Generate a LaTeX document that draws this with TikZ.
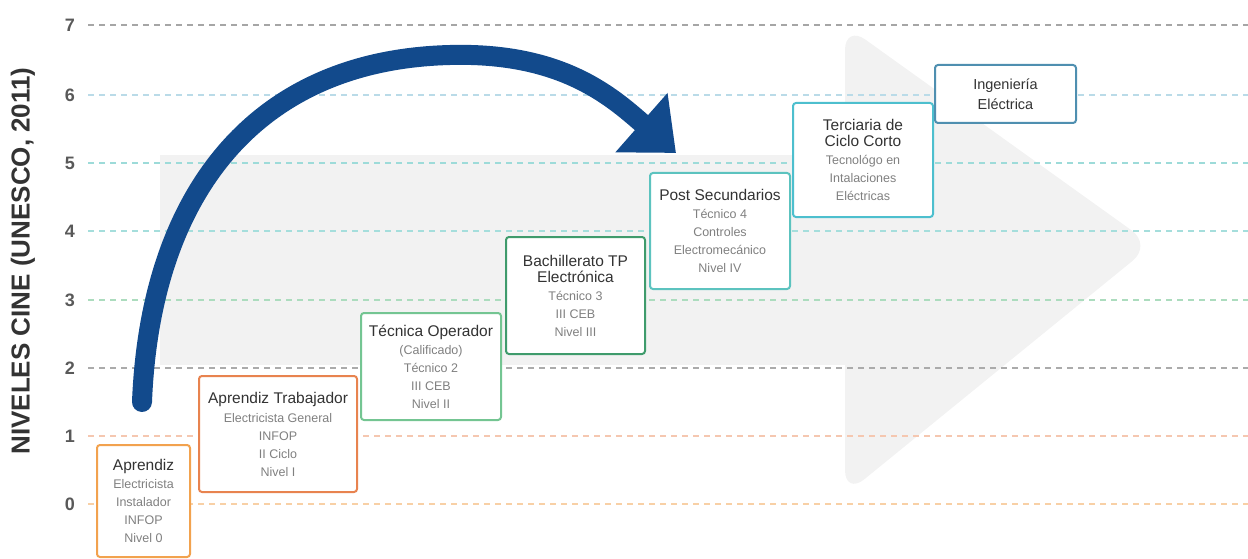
\documentclass[tikz,border=0pt]{standalone}
\usepackage{fontspec}
\setmainfont{Liberation Sans}
\usetikzlibrary{arrows.meta}

\definecolor{navy}{HTML}{124A8C}
\definecolor{bggray}{HTML}{F2F2F2}
\definecolor{titlegray}{HTML}{333333}
\definecolor{bodygray}{HTML}{808080}
\definecolor{orangeA}{HTML}{F2A24E}
\definecolor{orangeB}{HTML}{E8834F}
\definecolor{greenA}{HTML}{74C592}
\definecolor{greenB}{HTML}{3F9B6C}
\definecolor{tealA}{HTML}{5CC3BF}
\definecolor{tealB}{HTML}{4DBFCE}
\definecolor{steel}{HTML}{4F8FB0}

\newcommand{\ttl}[1]{{\fontsize{15.5}{17}\selectfont\color{titlegray}#1}}

\tikzset{
  level/.style={dash pattern=on 6pt off 5pt, line width=1.2pt},
  num/.style={font=\bfseries\fontsize{18}{18}\selectfont, text=black!65},
  stage/.style={draw, line width=2pt, rounded corners=3pt, fill=white,
    align=center, inner sep=0pt, text=bodygray,
    font=\fontsize{12.5}{18}\selectfont},
}

\begin{document}
\begin{tikzpicture}[x=1pt, y=-1pt]
  \useasboundingbox (0,0) rectangle (1248,559);

  % background arrow
  \fill[bggray] (160,155) rectangle (850,365);
  \fill[bggray, rounded corners=25pt] (845,25) -- (1152,245) -- (845,495) -- cycle;

  % levels
  \node[num] (l7) at (70,25) {7};
  \node[num] (l6) at (70,95) {6};
  \node[num] (l5) at (70,163) {5};
  \node[num] (l4) at (70,231) {4};
  \node[num] (l3) at (70,300) {3};
  \node[num] (l2) at (70,368) {2};
  \node[num] (l1) at (70,436) {1};
  \node[num] (l0) at (70,504) {0};
  \draw[level, color=black!35] (88,25) -- (1248,25);
  \draw[level, color=black!30!cyan!30!white] (88,95) -- (1248,95);
  \draw[level, color=tealA!60] (88,163) -- (1248,163);
  \draw[level, color=tealA!55] (88,231) -- (1248,231);
  \draw[level, color=greenA!60] (88,300) -- (1248,300);
  \draw[level, color=black!33] (88,368) -- (1248,368);
  \draw[level, color=orangeB!45] (88,436) -- (1248,436);
  \draw[level, color=orangeA!50] (88,504) -- (1248,504);

  \node[rotate=90, font=\bfseries\fontsize{26}{26}\selectfont, text=black!80] (axis) at (23,261)
    {NIVELES CINE (UNESCO, 2011)};

  % stages
  \node[stage, draw=orangeA, minimum width=93pt, minimum height=112pt] (aprendiz) at (143.5,501)
    {\ttl{Aprendiz}\\Electricista\\Instalador\\INFOP\\Nivel 0};
  \node[stage, draw=orangeB, minimum width=158pt, minimum height=116pt] (trabajador) at (278,434)
    {\ttl{Aprendiz Trabajador}\\[1pt]Electricista General\\INFOP\\II Ciclo\\Nivel I};
  \node[stage, draw=greenA, minimum width=140pt, minimum height=107pt] (operador) at (431,366.5)
    {\ttl{Técnica Operador}\\(Calificado)\\Técnico 2\\III CEB\\Nivel II};
  \node[stage, draw=greenB, minimum width=139pt, minimum height=117pt] (bachiller) at (575.5,295.5)
    {\ttl{Bachillerato TP}\\[-2pt]\ttl{Electrónica}\\Técnico 3\\III CEB\\Nivel III};
  \node[stage, draw=tealA, minimum width=140pt, minimum height=116pt] (postsec) at (720,231)
    {\ttl{Post Secundarios}\\Técnico 4\\Controles\\Electromecánico\\Nivel IV};
  \node[stage, draw=tealB, minimum width=140pt, minimum height=114pt] (terciaria) at (863,160)
    {\ttl{Terciaria de}\\[-2pt]\ttl{Ciclo Corto}\\Tecnológo en\\Intalaciones\\Eléctricas};
  \node[stage, draw=steel, minimum width=141pt, minimum height=58pt,
    font=\fontsize{14.5}{20}\selectfont, text=titlegray] (ingenieria) at (1005.5,94)
    {Ingeniería\\Eléctrica};

  % big arc
  \coordinate (arcstart) at (142,402);
  \coordinate (arcend) at (676,153);
  \draw[navy, line width=20pt, line cap=round, -{Triangle[width=76pt, length=46pt]}]
    (arcstart) .. controls (150,200) and (250,60) .. (450,55)
    .. controls (560,52) and (610,95) .. (arcend);
\end{tikzpicture}
\end{document}
